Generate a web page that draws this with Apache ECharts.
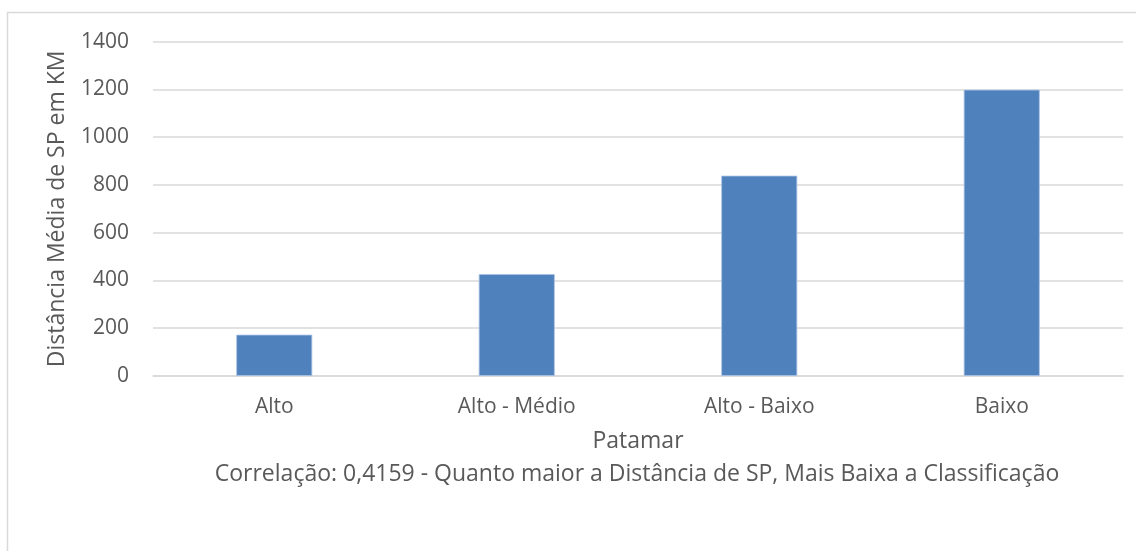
<!DOCTYPE html>
<html>
<head>
<meta charset="utf-8">
<script src="https://cdn.jsdelivr.net/npm/echarts@6/dist/echarts.min.js"></script>
<style>
  html, body { margin: 0; padding: 0; background: #fff; }
  #chart { width: 1136px; height: 551px; }
</style>
</head>
<body>
<div id="chart"></div>
<script>
// categorias e valores
const patamares = ['Alto', 'Alto - Médio', 'Alto - Baixo', 'Baixo']
const distancias = [173, 427, 839, 1199]
const yTicks = [0, 200, 400, 600, 800, 1000, 1200, 1400]

const fonte = 'Open Sans'
const cinza = '#595959'

let chart = echarts.init(document.getElementById('chart'))
let option = {
  animation: false,
  backgroundColor: '#fff',
  textStyle: { fontFamily: fonte },
  graphic: [
    { // borda da área do gráfico (só esquerda e topo visíveis)
      type: 'polyline',
      shape: { points: [[7.5, 551], [7.5, 12.5], [1136, 12.5]] },
      style: { stroke: '#d9d9d9', lineWidth: 1.5, fill: null }
    },
    {
      type: 'text',
      x: 637,
      y: 474,
      style: {
        text: 'Correlação: 0,4159 - Quanto maior a Distância de SP, Mais Baixa a Classificação',
        fontFamily: fonte,
        fontSize: 23,
        fill: cinza,
        align: 'center',
        verticalAlign: 'middle'
      }
    }
  ],
  grid: {
    left: 153,
    right: 13,
    top: 41.7,
    bottom: 175
  },
  xAxis: {
    type: 'category',
    data: patamares,
    name: 'Patamar',
    nameLocation: 'middle',
    nameGap: 54,
    nameTextStyle: { color: cinza, fontSize: 23, fontFamily: fonte },
    axisLine: { lineStyle: { color: '#d9d9d9', width: 1.5 } },
    axisTick: { show: false },
    axisLabel: { color: cinza, fontSize: 21, margin: 21, fontFamily: fonte }
  },
  yAxis: {
    type: 'value',
    min: yTicks[0],
    max: yTicks[yTicks.length - 1],
    interval: 200,
    name: 'Distância Média de SP em KM',
    nameLocation: 'middle',
    nameGap: 84,
    nameTextStyle: { color: cinza, fontSize: 23, fontFamily: fonte },
    axisLine: { show: false },
    axisTick: { show: false },
    axisLabel: {
      color: cinza,
      fontSize: 21,
      margin: 24,
      fontFamily: fonte,
      formatter: v => String(v)
    },
    splitLine: { lineStyle: { color: '#d9d9d9', width: 1.5 } }
  },
  series: [
    {
      type: 'bar',
      data: distancias,
      barWidth: 76,
      itemStyle: {
        color: '#4f81bd',
        borderColor: '#a9c3e6',
        borderWidth: 0.8
      }
    }
  ]
}
chart.setOption(option)
</script>
</body>
</html>
